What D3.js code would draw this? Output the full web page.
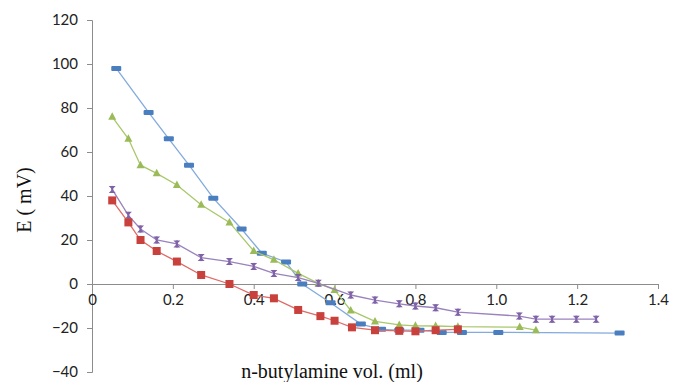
<!DOCTYPE html>
<html>
<head>
<meta charset="utf-8">
<script src="https://cdn.jsdelivr.net/npm/d3@7"></script>
<style>
  body { margin: 0; background: #fff; }
  .tick text { font-family: Lato, "Open Sans", sans-serif; font-size: 15px; fill: #222; }
  .labels { font-family: "Liberation Serif", "DejaVu Serif", serif; font-size: 20px; fill: #111; }
</style>
</head>
<body>
<div id="vis"></div>
<script>
// tick values
const xTicks = [0, 0.2, 0.4, 0.6, 0.8, 1.0, 1.2, 1.4]
const yTicks = [-40, -20, 0, 20, 40, 60, 80, 100, 120]

// series
const blueX = [0.06, 0.14, 0.19, 0.24, 0.30, 0.37, 0.42, 0.48, 0.52, 0.59, 0.665, 0.715, 0.76, 0.81, 0.865, 0.915, 1.005, 1.305]
const blueY = [98, 78, 66, 54, 39, 25, 14, 10, 0, -8.5, -18.2, -20.6, -21, -21, -22, -22, -22, -22.3]

const greenX = [0.05, 0.09, 0.12, 0.16, 0.21, 0.27, 0.34, 0.40, 0.45, 0.51, 0.56, 0.60, 0.64, 0.70, 0.76, 0.80, 0.85, 0.905, 1.058, 1.098]
const greenY = [76, 66, 54, 50.3, 45, 36, 28, 15, 11, 4.8, 0.3, -2.7, -12, -17, -18.6, -19, -19.1, -19.4, -19.6, -21]

const purpleX = [0.05, 0.09, 0.12, 0.16, 0.21, 0.27, 0.34, 0.40, 0.45, 0.51, 0.56, 0.64, 0.70, 0.76, 0.80, 0.85, 0.905, 1.057, 1.098, 1.138, 1.198, 1.247]
const purpleY = [43, 31.2, 25, 20, 18.2, 12, 10.2, 8, 4.8, 2.9, 0.3, -5, -7.3, -9, -10, -10.8, -12.8, -14.6, -16, -16, -16, -16]

const redX = [0.05, 0.09, 0.12, 0.16, 0.21, 0.27, 0.34, 0.40, 0.45, 0.51, 0.565, 0.60, 0.643, 0.70, 0.76, 0.80, 0.85, 0.905]
const redY = [38, 28, 20, 15, 10.2, 4.1, 0, -5, -6.5, -11.8, -14.6, -16.7, -19.7, -21, -21.3, -21.5, -21, -20.6]

const series = [
  {name: 'blue', xs: blueX, ys: blueY, line: '#83aadf', fill: '#4a7ebf', marker: 'dash'},
  {name: 'green', xs: greenX, ys: greenY, line: '#a8c86a', fill: '#9bbb59', marker: 'triangle'},
  {name: 'purple', xs: purpleX, ys: purpleY, line: '#9a82bd', fill: '#7f62a8', marker: 'hourglass'},
  {name: 'red', xs: redX, ys: redY, line: '#e06a66', fill: '#c9413c', marker: 'square'}
]

const W = 673, H = 382

const svg = d3.select('#vis')
    .append('svg')
    .attr('width', W)
    .attr('height', H)

const xScale = d3.scaleLinear().domain([0, 1.4]).range([92, 658])
const yScale = d3.scaleLinear().domain([-40, 120]).range([372, 20])

// y axis
const yAxis = d3.axisLeft(yScale).tickValues(yTicks).tickSize(5).tickPadding(9).tickFormat(d3.format('d'))
const gy = svg.append('g')
    .attr('transform', `translate(${xScale(0)},0)`)
    .call(yAxis)
gy.select('.domain').attr('stroke', '#8c8c8c')
gy.selectAll('.tick line').attr('stroke', '#8c8c8c')

// x axis sits on y = 0
const xAxis = d3.axisBottom(xScale).tickValues(xTicks).tickSize(5).tickPadding(5)
    .tickFormat(d => d === 0 ? '0' : d3.format('.1f')(d))
const gx = svg.append('g')
    .attr('transform', `translate(0,${yScale(0)})`)
    .call(xAxis)
gx.select('.domain').attr('stroke', '#8c8c8c')
gx.selectAll('.tick line').attr('stroke', '#8c8c8c')

// lines + markers
const line = d3.line().x(d => xScale(d[0])).y(d => yScale(d[1]))

series.forEach(s => {
  const pts = s.xs.map((x, i) => [x, s.ys[i]])
  svg.append('path')
      .datum(pts)
      .attr('fill', 'none')
      .attr('stroke', s.line)
      .attr('stroke-width', 1.3)
      .attr('d', line)

  const g = svg.append('g').attr('fill', s.fill)
  pts.forEach(p => {
    const cx = xScale(p[0]), cy = yScale(p[1])
    if (s.marker === 'dash') {
      g.append('rect').attr('x', cx - 5).attr('y', cy - 2.5).attr('width', 10).attr('height', 5).attr('rx', 1)
    } else if (s.marker === 'square') {
      g.append('rect').attr('x', cx - 4).attr('y', cy - 4).attr('width', 8).attr('height', 8)
    } else if (s.marker === 'triangle') {
      g.append('path').attr('d', `M${cx},${cy - 4.5}L${cx + 4},${cy + 3}L${cx - 4},${cy + 3}Z`)
    } else {
      g.append('path').attr('d', `M${cx - 3.5},${cy - 3.5}L${cx + 3.5},${cy - 3.5}L${cx - 3.5},${cy + 3.5}L${cx + 3.5},${cy + 3.5}Z`)
      g.append('rect').attr('x', cx - 1).attr('y', cy - 3.5).attr('width', 2).attr('height', 7)
    }
  })
})

// axis labels
svg.append('text')
    .attr('class', 'labels')
    .attr('x', 332)
    .attr('y', 378)
    .attr('text-anchor', 'middle')
    .text('n-butylamine vol. (ml)')

svg.append('text')
    .attr('class', 'labels')
    .attr('transform', 'rotate(-90)')
    .attr('x', -200)
    .attr('y', 31)
    .attr('text-anchor', 'middle')
    .text('E ( mV)')
</script>
</body>
</html>
